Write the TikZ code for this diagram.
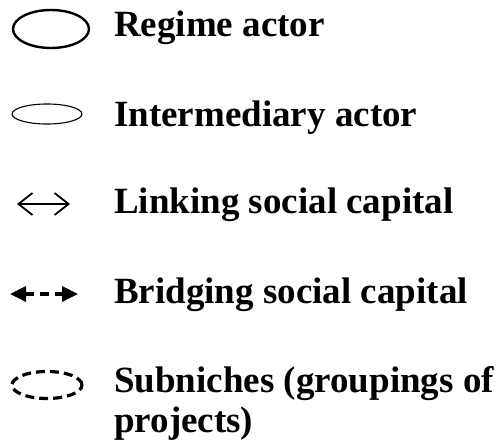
\documentclass[tikz,border=0pt]{standalone}
\usepackage{fontspec}
\setmainfont{Liberation Serif}
\usetikzlibrary{arrows.meta}
\usetikzlibrary{shapes.geometric}

\tikzset{
  legendtext/.style={anchor=base west, inner sep=0pt, align=left,
    font=\fontsize{37}{40}\selectfont\bfseries},
  actor/.style={draw, ellipse, inner sep=0pt}
}

\begin{document}
\begin{tikzpicture}[x=1pt, y=-1pt]
            \def \textx {114}
            \useasboundingbox (0,0) rectangle (500,447);

            \node[actor, line width=2.4pt, minimum width=76pt, minimum height=38pt] (regime) at (51,29) {};
            \node[legendtext] (regimetxt) at (\textx,36) {Regime actor};

            \node[actor, line width=1.1pt, minimum width=70pt, minimum height=20pt] (inter) at (47,114) {};
            \node[legendtext] (intertxt) at (\textx,126) {Intermediary actor};

            \coordinate (linkL) at (17,204);
            \coordinate (linkR) at (70,204);
            \draw[line width=1.8pt, {Straight Barb[length=14pt,width=22pt]}-{Straight Barb[length=14pt,width=22pt]}] (linkL) -- (linkR);
            \node[legendtext] (linktxt) at (\textx,213) {Linking social capital};

            \coordinate (bridgeL) at (10,294);
            \coordinate (bridgeR) at (78,294);
            \draw[line width=3.4pt, dash pattern=on 9pt off 6pt,
              {Triangle[length=16pt,width=15pt]}-{Triangle[length=16pt,width=15pt]}] (bridgeL) -- (bridgeR);
            \node[legendtext] (bridgetxt) at (\textx,303) {Bridging social capital};

            \node[actor, line width=3.2pt, dash pattern=on 9pt off 5pt, minimum width=70pt, minimum height=27pt] (subniche) at (47,385) {};
            % last line sits on the given base
            \node[legendtext] (subtxt) at (\textx,432) {Subniches (groupings of\\projects)};
          \end{tikzpicture}
\end{document}
